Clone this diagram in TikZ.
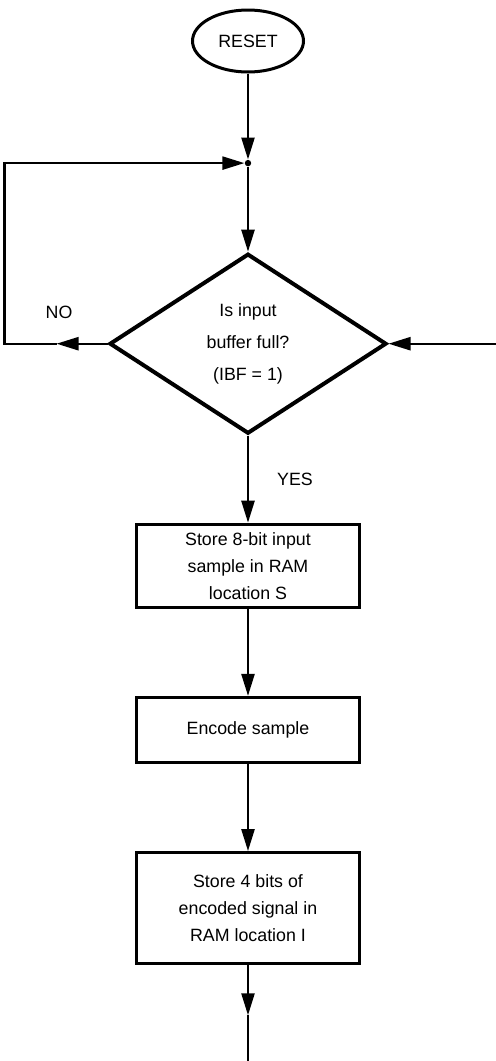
\documentclass[tikz,border=0pt]{standalone}
\usepackage{fontspec}
\setmainfont{Liberation Sans}
\usetikzlibrary{arrows.meta,positioning,shapes.geometric}

\begin{document}
\begin{tikzpicture}[
    x=0.5pt, y=-0.5pt,
    startnode/.style={draw, ellipse, line width=1.5pt, minimum width=55.5pt, minimum height=31pt, inner sep=0pt, font=\fontsize{8.9}{10}\selectfont},
    junction/.style={circle, fill, inner sep=0pt, minimum size=3.2pt},
    decision/.style={draw, diamond, line width=2pt, minimum width=138.5pt, minimum height=90pt, inner sep=0pt, align=center, font=\fontsize{8.9}{16}\selectfont},
    process/.style={draw, line width=1.6pt, minimum width=111.5pt, inner sep=0pt, align=center, font=\fontsize{8.9}{13.5}\selectfont},
    lbl/.style={inner sep=0pt, font=\fontsize{8.9}{10}\selectfont},
    arrow/.style={-{Triangle[length=11pt,width=6.5pt]}, line width=1.2pt}
]
\useasboundingbox (0,0) rectangle (495,1061);

% Start and merge point
\node[startnode] (reset) at (248,41) {RESET};
\node[junction, below=43pt of reset] (join) {};

% Test
\node[decision, below=42.5pt of join] (ibf) {Is input\\buffer full?\\(IBF = 1)};
\node[lbl] (no) at (59,312) {NO};

% Steps
\node[process, minimum height=41.5pt, below=43.5pt of ibf] (store) {Store 8-bit input\\sample in RAM\\location S};
\node[process, minimum height=32.5pt, below=43.5pt of store] (encode) {Encode sample};
\node[process, minimum height=55.5pt, below=43.5pt of encode] (storei) {Store 4 bits of\\encoded signal in\\RAM location I};

% Loose ends
\path (ibf.west) ++(-51,0) coordinate (nomid) ++(-52,0) coordinate (loopbot);
\path (ibf.east) ++(107,0) coordinate (feed);
\path (storei.south) ++(0,50) coordinate (outmid) ++(0,60) coordinate (outend);

% Arrows
\draw[arrow] (reset) -- (join);
\draw[arrow] (join) -- (ibf);
\draw[arrow] (ibf.west) -- (nomid);
\draw[arrow] (nomid) -- (loopbot) |- (join);
\draw[arrow] (feed) -- (ibf.east);
\draw[arrow] (ibf) -- node[lbl, midway, right=14pt] (yes) {YES} (store);
\draw[arrow] (store) -- (encode);
\draw[arrow] (encode) -- (storei);
\draw[arrow] (storei) -- (outmid);
\draw[line width=1.2pt] (outmid) -- (outend);

\end{tikzpicture}
\end{document}
